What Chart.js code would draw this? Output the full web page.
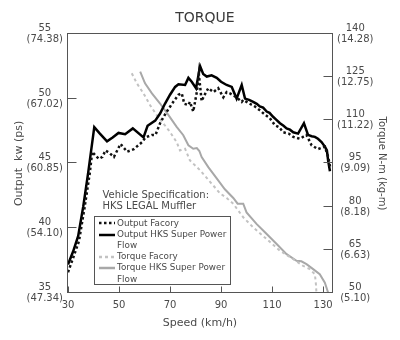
<!DOCTYPE html>
<html>
<head>
<meta charset="utf-8">
<script src="https://cdn.jsdelivr.net/npm/chart.js@4.4.1/dist/chart.umd.min.js"></script>
<style>
html,body{margin:0;padding:0;background:#fff;}
#wrap{width:400px;height:340px;position:relative;}
canvas{display:block;}
</style>
</head>
<body>
<div id="wrap"><canvas id="c" width="400" height="340"></canvas></div>
<script>
// ---- texts ----
const chartTitle = 'TORQUE';
const xTitle = 'Speed (km/h)';
const yTitle = 'Output  kw (ps)';
const y2Title = 'Torque N-m (kg-m)';
const noteLines = ['Vehicle Specification:', 'HKS LEGAL Muffler'];
const seriesNames = ['Output Facory', 'Output HKS Super Power Flow', 'Torque Facory', 'Torque HKS Super Power Flow'];

// ---- ticks ----
const xTicks = [30, 50, 70, 90, 110, 130];
const yTicks = [35, 40, 45, 50, 55];
const yTickPs = ['(47.34)', '(54.10)', '(60.85)', '(67.02)', '(74.38)'];
const y2Ticks = [50, 65, 80, 95, 110, 125, 140];
const y2TickKgm = ['(5.10)', '(6.63)', '(8.18)', '(9.09)', '(11.22)', '(12.75)', '(14.28)'];

// ---- series: Output Factory (kW) ----
const outFacSpeed = [30,32,34.3,36.5,38.5, 39.5,40.8,42.1,43.5,44.7, 46.3,48,50.6,53.2,55.8, 59.1,60.4,62.9,64.3,66.1, 67.5,69.4,71.3,73.3,74.6, 75.6,77.2,77.8,79.1,80.5, 81.3,82.4,83.3,85,87, 88.9,90.9,92.2,93.5,96.1, 98.1,98.7,101.3,103.2,105.2, 107,109.1,111.1,112.7,114.4, 116.5,118.3,120.9,123.5,125.5, 128,130.7,132,132.9];
const outFacKw = [36.6,37.7,39.0,41.6,44.2, 45.9,45.6,45.35,45.5,46.0, 45.8,45.5,46.5,45.9,46.1, 46.65,47.0,47.2,47.2,48.1, 48.6,49.2,49.75,50.3,50.4, 49.6,49.5,49.75,49.0,50.5, 51.9,49.8,50.2,50.8,50.5, 50.8,50.1,50.5,50.4,50.1, 49.75,49.9,49.6,49.4,49.1, 48.8,48.5,47.95,47.8,47.4, 47.3,47.05,46.9,47.2,46.4, 46.1,46.3,45.5,44.6];

// ---- series: Output HKS Super Power Flow (kW) ----
const outHksSpeed = [30,32,34,36,38, 40.3,42.5,45.3,47.5,49.8, 52.4,55.4,59.6,61.2,64.2, 66.1,68,70,72,73.3, 75.9,77.2,78.5,80.2,81.8, 83,84.4,86.3,88.3,90, 92.2,94.2,96.1,98.1,99.4, 101,102.6,104,105.2,106.5, 107.9,109,110.4,111.5,113.1, 114.5,115.7,117,118.3,120.2, 122.5,124.1,125.5,126.8,128, 129.4,130.7,131.5,132,132.7];
const outHksKw = [37.2,38.2,39.4,41.7,44.4, 47.8,47.3,46.7,47.0,47.35, 47.25,47.7,47.0,47.9,48.3, 48.85,49.6,50.3,50.9,51.1, 51.05,51.6,51.3,50.8,52.5, 51.9,51.7,51.8,51.6,51.3, 51.05,50.9,50.0,51.05,50.0, 49.9,49.75,49.6,49.4,49.3, 49.0,48.9,48.6,48.4,48.1, 47.9,47.7,47.6,47.4,47.3, 48.1,47.2,47.1,47.05,46.9, 46.65,46.3,46.0,45.2,44.4];

// ---- series: Torque Factory (N-m) ----
const tqFacSpeed = [55,57,59.6,62.2,64.8, 67.4,70,72.6,73.9,75.9, 77.8,81.8,85.7,89.6,92.2, 94.8,98.7,102.6,107.9,113.1, 118.3,122.2,124.8,126.8,127.2,127.4];
const tqFacNm = [126.3,122.8,119.3,115.2,111.75, 108.85,105.9,102.4,99.5,100.1, 96.05,92.6,88.6,84.6,83.0, 80.95,76.3,72.8,68.7,64.65, 61.75,59.4,58.3,56.5,53.0,50];

// ---- series: Torque HKS Super Power Flow (N-m) ----
const tqHksSpeed = [58.3,60.2,62.9,66.1,69.4, 72.6,75.2,77.2,79.1,80.5, 81.5,82.4,85,88.3,91.5, 94.8,96.5,98.7,100,103.9, 107.9,111.8,115.7,119.6,121.5, 123.5,126.1,128.7,130.7,132];
const tqHksNm = [126.9,122.8,119.3,115.8,111.75, 107.7,104.8,101.3,100.1,100.3, 99.3,97.2,93.7,89.8,86.0, 83.0,81,81,78,74.0, 70.5,67.0,63.5,61.2,61.0, 60.0,58.3,56.5,53.6,50.1];

const pts = (xs, ys) => xs.map((x, i) => ({x: x, y: ys[i]}));

const FONT = '"DejaVu Sans", Verdana, sans-serif';
const textColor = '#4a4a4a';
const frameColor = '#555';

Chart.defaults.font.family = FONT;
Chart.defaults.color = textColor;

const framePlugin = {
  id: 'framePlugin',
  afterDatasetsDraw(chart) {
    const {ctx, chartArea: a} = chart;
    const sx = chart.scales.x, sy = chart.scales.y, sy2 = chart.scales.y2;
    ctx.save();
    const L = Math.round(a.left) - 0.5, R = Math.round(a.right) + 0.5;
    const T = Math.round(a.top) - 0.5, B = Math.round(a.bottom) - 0.5;
    ctx.strokeStyle = frameColor; ctx.lineWidth = 1; ctx.setLineDash([]);
    ctx.strokeRect(L, T, R - L, B - T);
    ctx.beginPath();
    yTicks.forEach(v => { const p = Math.round(sy.getPixelForValue(v)) - 0.5; ctx.moveTo(L, p); ctx.lineTo(L + 9, p); });
    y2Ticks.forEach(v => { const p = Math.round(sy2.getPixelForValue(v)) - 0.5; ctx.moveTo(R, p); ctx.lineTo(R - 9, p); });
    xTicks.forEach(v => { const p = Math.round(sx.getPixelForValue(v)) + 0.5; ctx.moveTo(p, B); ctx.lineTo(p, B - 6); });
    ctx.stroke();

    // notes
    ctx.fillStyle = textColor;
    ctx.font = '10px ' + FONT;
    ctx.textAlign = 'left'; ctx.textBaseline = 'middle';
    noteLines.forEach((t, i) => ctx.fillText(t, 102.5, 195.5 + i * 10.8));

    // legend box
    const lg = {left: 94.5, top: 216.5, right: 230.5, bottom: 284.5, s0: 99, s1: 115, tx: 117, row0: 223.3, rowH: 11.2, maxW: 112};
    ctx.fillStyle = '#fff';
    ctx.fillRect(lg.left, lg.top, lg.right - lg.left, lg.bottom - lg.top);
    ctx.strokeStyle = frameColor; ctx.lineWidth = 1;
    ctx.strokeRect(lg.left, lg.top, lg.right - lg.left, lg.bottom - lg.top);
    ctx.font = '8.8px ' + FONT;
    let y = lg.row0;
    chart.data.datasets.forEach(ds => {
      const words = ds.label.split(' ');
      const lines = [];
      let cur = '';
      words.forEach(w => {
        const t = cur ? cur + ' ' + w : w;
        if (cur && ctx.measureText(t).width > lg.maxW) { lines.push(cur); cur = w; } else { cur = t; }
      });
      if (cur) lines.push(cur);
      ctx.strokeStyle = ds.borderColor; ctx.lineWidth = 2.5;
      ctx.setLineDash(ds.borderDash || []);
      ctx.beginPath(); ctx.moveTo(lg.s0, Math.round(y)); ctx.lineTo(lg.s1, Math.round(y)); ctx.stroke();
      ctx.setLineDash([]);
      ctx.fillStyle = textColor;
      lines.forEach(l => { ctx.fillText(l, lg.tx, y); y += lg.rowH; });
    });
    ctx.restore();
  }
};

new Chart(document.getElementById('c'), {
  type: 'line',
  data: {
    datasets: [
      {label: seriesNames[0], data: pts(outFacSpeed, outFacKw), yAxisID: 'y', borderColor: '#111', borderWidth: 2.5, borderDash: [2.5, 2.5]},
      {label: seriesNames[1], data: pts(outHksSpeed, outHksKw), yAxisID: 'y', borderColor: '#000', borderWidth: 2.5},
      {label: seriesNames[2], data: pts(tqFacSpeed, tqFacNm), yAxisID: 'y2', borderColor: '#c2c2c2', borderWidth: 2, borderDash: [3, 3]},
      {label: seriesNames[3], data: pts(tqHksSpeed, tqHksNm), yAxisID: 'y2', borderColor: '#a8a8a8', borderWidth: 2}
    ]
  },
  options: {
    responsive: false,
    animation: false,
    devicePixelRatio: 1,
    layout: {padding: {left: 10, right: 0, top: 0, bottom: 0}},
    elements: {point: {radius: 0, hoverRadius: 0}, line: {tension: 0, fill: false}},
    plugins: {
      legend: {display: false},
      tooltip: {enabled: false},
      title: {display: true, text: chartTitle, color: '#3a3a3a', font: {size: 14, weight: 'normal', family: FONT}, padding: {top: 10, bottom: 7}}
    },
    scales: {
      x: {
        type: 'linear', position: 'bottom', min: 30, max: 133.5,
        afterBuildTicks: s => { s.ticks = xTicks.map(v => ({value: v})); },
        afterFit: s => { s.height = 47; },
        grid: {display: false, drawTicks: false}, border: {display: false},
        ticks: {color: textColor, font: {size: 10}, padding: 6, maxRotation: 0, autoSkip: false, callback: v => String(v)},
        title: {display: true, text: xTitle, color: textColor, font: {size: 11}, padding: {top: 0, bottom: 10.7}}
      },
      y: {
        type: 'linear', position: 'left', min: 35, max: 55,
        afterBuildTicks: s => { s.ticks = yTicks.map(v => ({value: v})); },
        afterFit: s => { s.width = 58; },
        grid: {display: false, drawTicks: false}, border: {display: false},
        ticks: {color: textColor, font: {size: 10, lineHeight: 1.1}, padding: 5, crossAlign: 'center', autoSkip: false,
          callback: v => [String(v), yTickPs[yTicks.indexOf(v)]]},
        title: {display: true, text: yTitle, color: textColor, font: {size: 11}, padding: {top: 2.4, bottom: 0}}
      },
      y2: {
        type: 'linear', position: 'right', min: 50, max: 140,
        afterBuildTicks: s => { s.ticks = y2Ticks.map(v => ({value: v})); },
        afterFit: s => { s.width = 68; },
        grid: {display: false, drawTicks: false}, border: {display: false},
        ticks: {color: textColor, font: {size: 10, lineHeight: 1.1}, padding: 5, crossAlign: 'center', autoSkip: false,
          callback: v => [String(v), y2TickKgm[y2Ticks.indexOf(v)]]},
        title: {display: true, text: y2Title, color: textColor, font: {size: 10}, padding: {top: 12.3, bottom: 0}}
      }
    }
  },
  plugins: [framePlugin]
});
</script>
</body>
</html>
